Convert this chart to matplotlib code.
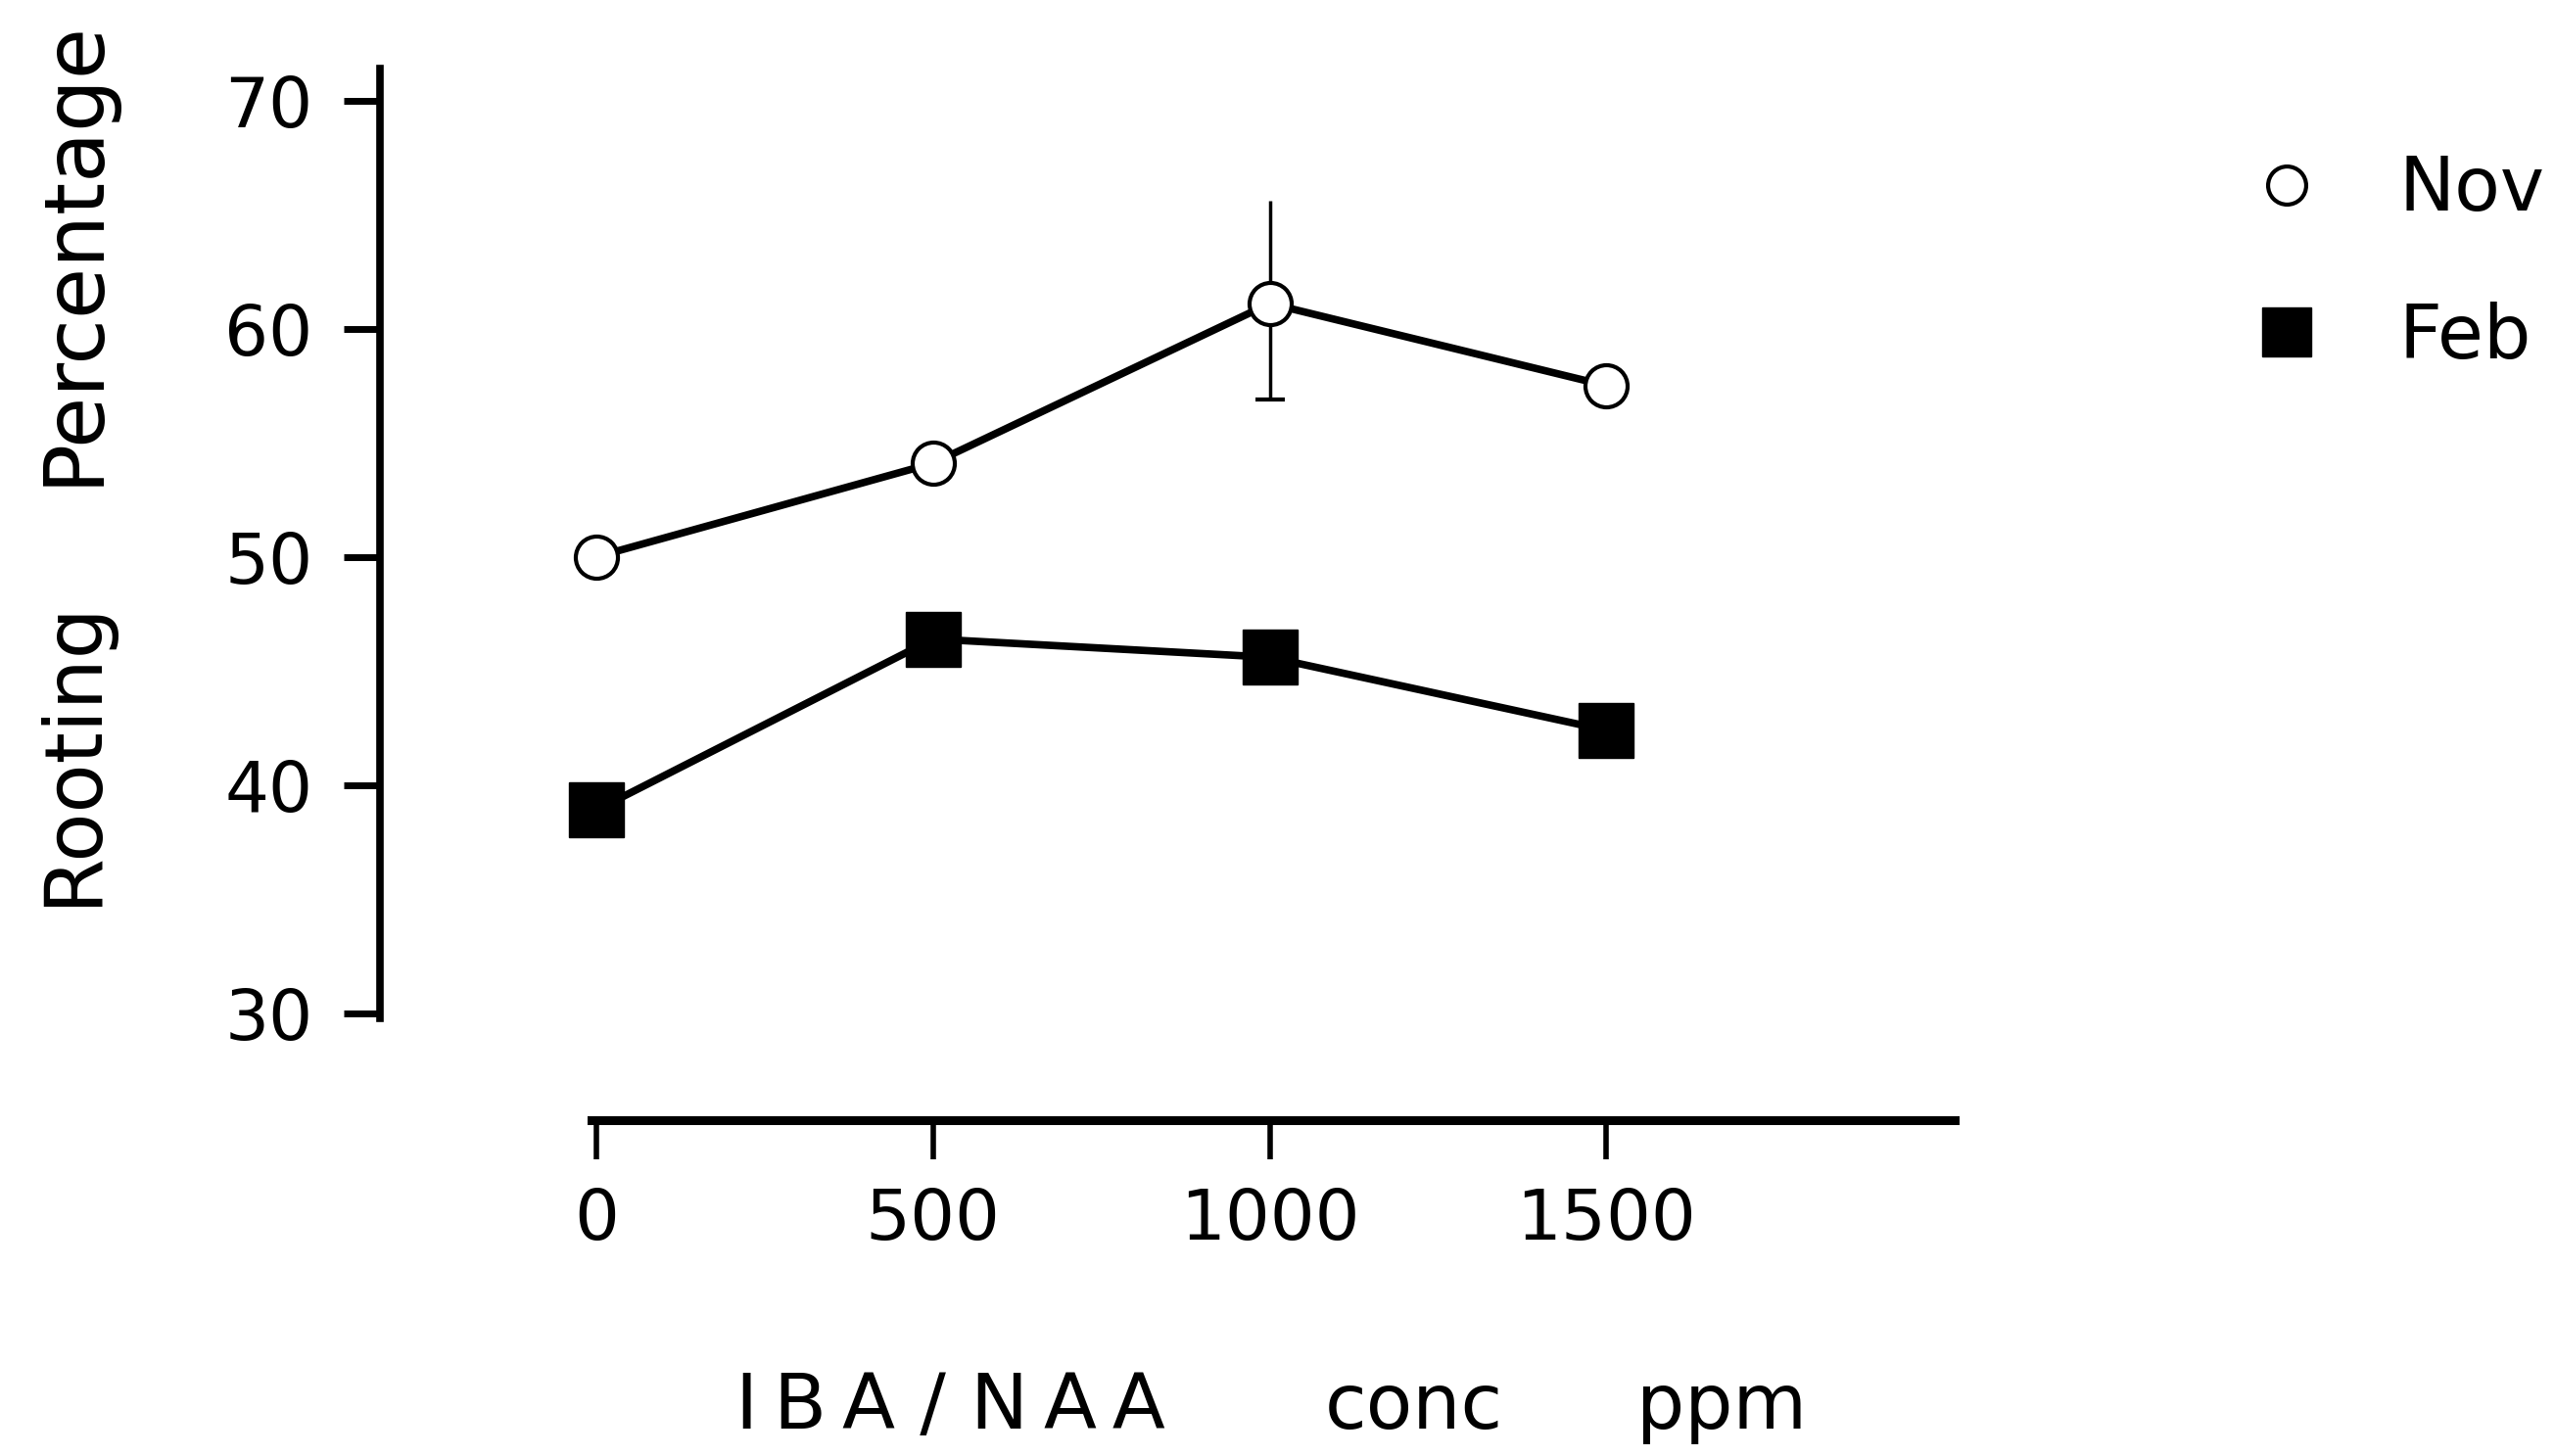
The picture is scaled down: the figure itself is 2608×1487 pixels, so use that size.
import matplotlib
matplotlib.use("Agg")
import matplotlib.pyplot as plt
from matplotlib.lines import Line2D

# data
conc = [0, 500, 1000, 1500]
nov = [50.0, 54.1, 61.1, 57.5]
feb = [38.9, 46.4, 45.6, 42.4]
nov_err_low = [0, 0, 4.2, 0]
nov_err_high = [0, 0, 4.5, 0]
xticks = [0, 500, 1000, 1500]
yticks = [30, 40, 50, 60, 70]

plt.rcParams['font.family'] = 'DejaVu Sans'

fig = plt.figure(figsize=(26.08, 14.87), dpi=100)
fig.patch.set_facecolor('w')
ax = fig.add_axes([0.1486, 0.2304, 0.6167, 0.7226])

# Nov series, open circles, with the one error bar
ax.plot(conc, nov, color='k', lw=5.5, marker='o', ms=31, mfc='w', mec='k', mew=3, zorder=3)
eb = ax.errorbar([conc[2]], [nov[2]], yerr=[[nov_err_low[2]], [nov_err_high[2]]],
                 fmt='none', ecolor='k', elinewidth=2.5, capsize=11, capthick=3, zorder=2)
eb[1][1].set_visible(False)

# Feb series, filled squares
ax.plot(conc, feb, color='k', lw=5.5, marker='s', ms=40, mfc='k', mec='k', zorder=3)

ax.set_xlim(-322, 2017)
ax.set_ylim(25.3, 71.4)
ax.set_xticks(xticks)
ax.set_yticks(yticks)
ax.set_xticklabels([str(v) for v in xticks])
ax.set_yticklabels([str(v) for v in yticks])

for s in ['top', 'right']:
    ax.spines[s].set_visible(False)
ax.spines['left'].set_linewidth(5.5)
ax.spines['bottom'].set_linewidth(6.5)
ax.spines['left'].set_bounds(29.8, 71.4)
ax.spines['bottom'].set_bounds(-7, 2017)

ax.tick_params(axis='y', length=27, width=5, pad=22, labelsize=51, direction='out')
ax.tick_params(axis='x', length=29, width=4, pad=20, labelsize=52, direction='out')

# axis titles
fig.text(0.0287, 0.4832, 'Rooting', rotation=90, ha='center', va='center', fontsize=59)
fig.text(0.0287, 0.8266, 'Percentage', rotation=90, ha='center', va='center', fontsize=61)
fig.text(0.3721, 0.019, 'I\u2009B\u2009A / N\u2009A\u2009A', ha='center', va='baseline', fontsize=57)
fig.text(0.5536, 0.019, 'conc', ha='center', va='baseline', fontsize=56)
fig.text(0.6741, 0.019, 'ppm', ha='center', va='baseline', fontsize=56)

# legend
handles = [Line2D([], [], ls='none', marker='o', ms=28, mfc='w', mec='k', mew=3),
           Line2D([], [], ls='none', marker='s', ms=36, mfc='k', mec='k')]
fig.legend(handles, ['Nov', 'Feb'], loc='center left', bbox_to_anchor=(0.8807, 0.8188),
           frameon=False, fontsize=55, handlelength=1.0, handletextpad=1.0,
           labelspacing=1.0, borderpad=0, borderaxespad=0)

plt.savefig('out.png', dpi=100)
